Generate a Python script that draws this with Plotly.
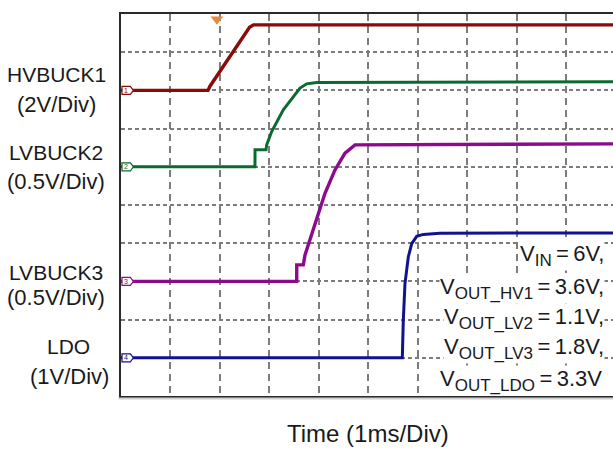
import plotly.graph_objects as go

# ---------------- data (time in ms, voltage in V) ----------------
ch1_t = [0.0, 1.76, 1.80, 2.20, 2.60, 2.68, 10.0]
ch1_v = [0.0, 0.0, 0.22, 1.75, 3.30, 3.43, 3.43]

ch2_t = [0.0, 2.71, 2.711, 2.933, 2.947, 3.048, 3.283, 3.485, 3.621, 3.756, 3.958, 10.0]
ch2_v = [0.0, 0.0, 0.222, 0.222, 0.288, 0.462, 0.746, 0.920, 1.030, 1.086, 1.103, 1.112]

ch3_t = [0.0, 3.554, 3.555, 3.687, 3.722, 3.991, 4.126, 4.328, 4.531, 4.733, 10.0]
ch3_v = [0.0, 0.0, 0.216, 0.216, 0.347, 0.893, 1.154, 1.459, 1.678, 1.787, 1.80]

ch4_t = [0.0, 5.690, 5.710, 5.744, 5.811, 5.880, 5.981, 6.114, 6.452, 10.0]
ch4_v = [0.0, 0.0, 0.98, 1.94, 2.64, 2.99, 3.18, 3.23, 3.26, 3.27]

trigger_time = 1.94

channel_names = ["HVBUCK1", "LVBUCK2", "LVBUCK3", "LDO"]
channel_scales = ["(2V/Div)", "(0.5V/Div)", "(0.5V/Div)", "(1V/Div)"]
volts_per_div = [2.0, 0.5, 0.5, 1.0]
channel_offsets = [8, 6, 3, 1]
cond_subs = ["IN", "OUT_HV1", "OUT_LV2", "OUT_LV3", "OUT_LDO"]
cond_values = ["6V,", "3.6V,", "1.1V,", "1.8V,", "3.3V"]
x_title = "Time (1ms/Div)"

# ---------------- layout geometry (pixels) ----------------
W, H = 613, 449
L, T, B = 121, 14, 53
PW, PH = W - L, H - T - B
DIV_X = 49.44
XMAX = PW / DIV_X

colors = ["#8a0a0a", "#0b6a2f", "#8c0a8c", "#12128e"]
widths = [3.4, 3.0, 3.4, 3.0]


def px(xp):
    return (xp - L) / PW


def py(yp):
    return (H - B - yp) / PH


fig = go.Figure()
series = [(ch1_t, ch1_v), (ch2_t, ch2_v), (ch3_t, ch3_v), (ch4_t, ch4_v)]
for i, (t, v) in enumerate(series):
    y = [channel_offsets[i] + vv / volts_per_div[i] for vv in v]
    fig.add_trace(go.Scatter(x=t, y=y, mode="lines",
                             line=dict(color=colors[i], width=widths[i]),
                             showlegend=False, hoverinfo="skip"))

# trigger marker
fig.add_trace(go.Scatter(x=[trigger_time], y=[9.86], mode="markers",
                         marker=dict(symbol="triangle-down", size=11, color="#e88a3c"),
                         cliponaxis=False, showlegend=False, hoverinfo="skip"))

shapes = []
annotations = []
# channel ground markers
for i in range(4):
    yo = channel_offsets[i]
    x0, x1, xt = 0.02, 0.19, 0.25
    h = 0.105
    shapes.append(dict(type="path", xref="x", yref="y",
                       path=f"M {x0} {yo-h} L {x1} {yo-h} L {xt} {yo} L {x1} {yo+h} L {x0} {yo+h} Z",
                       fillcolor="white", line=dict(color=colors[i], width=1.2)))
    annotations.append(dict(x=(x0 + x1) / 2, y=yo, xref="x", yref="y", text=str(i + 1),
                            showarrow=False, font=dict(size=7, color=colors[i], family="Arial"),
                            xanchor="center", yanchor="middle"))

# left labels
name_y = [73.5, 151, 271, 345]
scale_y = [104, 180, 296.5, 375]
name_x = [56, 56, 56, 68]
scale_x = [56, 56, 56, 69]
lab_font = dict(family="Liberation Sans, Arial", size=21, color="#1a1a1a")
scale_font = dict(family="Liberation Sans, Arial", size=22, color="#1a1a1a")
for i in range(4):
    annotations.append(dict(x=px(name_x[i]), y=py(name_y[i] + 1), xref="paper", yref="paper",
                            text=channel_names[i], showarrow=False, font=lab_font,
                            xanchor="center", yanchor="middle"))
    annotations.append(dict(x=px(scale_x[i]), y=py(scale_y[i] + 1), xref="paper", yref="paper",
                            text=channel_scales[i], showarrow=False, font=scale_font,
                            xanchor="center", yanchor="middle"))

# x title
annotations.append(dict(x=px(367.5), y=py(433), xref="paper", yref="paper", text=x_title,
                        showarrow=False, font=dict(family="Liberation Sans, Arial", size=24, color="#1a1a1a"),
                        xanchor="center", yanchor="middle"))

# conditions text block
cond_y = [254, 286, 316, 346, 378]
cond_right = [605, 605, 605, 605, 603]
for i in range(5):
    txt = ("V<sub><span style='font-size:17px'>" + cond_subs[i] + "</span></sub>"
           + "\u2009=\u2009" + cond_values[i])
    annotations.append(dict(x=px(cond_right[i]), y=py(cond_y[i] + 2), xref="paper", yref="paper",
                            text=txt, showarrow=False,
                            font=dict(family="Liberation Sans, Arial", size=22, color="#1a1a1a"),
                            xanchor="right", yanchor="middle", bgcolor="white", borderpad=0))

# shadow under bottom border
shapes.append(dict(type="line", xref="paper", yref="paper", x0=-0.005, x1=1, y0=py(398.5), y1=py(398.5),
                   line=dict(color="#d0d0d0", width=2)))

fig.update_layout(
    width=W, height=H,
    margin=dict(l=L, r=0, t=T, b=B, pad=0),
    paper_bgcolor="white", plot_bgcolor="white",
    shapes=shapes, annotations=annotations,
    xaxis=dict(range=[0, XMAX], dtick=1, tick0=0, showticklabels=False, ticks="",
               showgrid=True, gridcolor="#7c7c7c", gridwidth=1.5, griddash="7px,5px",
               zeroline=False, showline=True, linecolor="#2a2a2a", linewidth=2, mirror=True),
    yaxis=dict(range=[0, 10], dtick=1, tick0=0, showticklabels=False, ticks="",
               showgrid=True, gridcolor="#7c7c7c", gridwidth=1.5, griddash="4px,3px",
               zeroline=False, showline=True, linecolor="#2a2a2a", linewidth=2, mirror=False),
    showlegend=False,
)

fig.write_html("out.html", config={"displayModeBar": False},
               post_script="document.body.style.margin='0';document.body.style.overflow='hidden';")
